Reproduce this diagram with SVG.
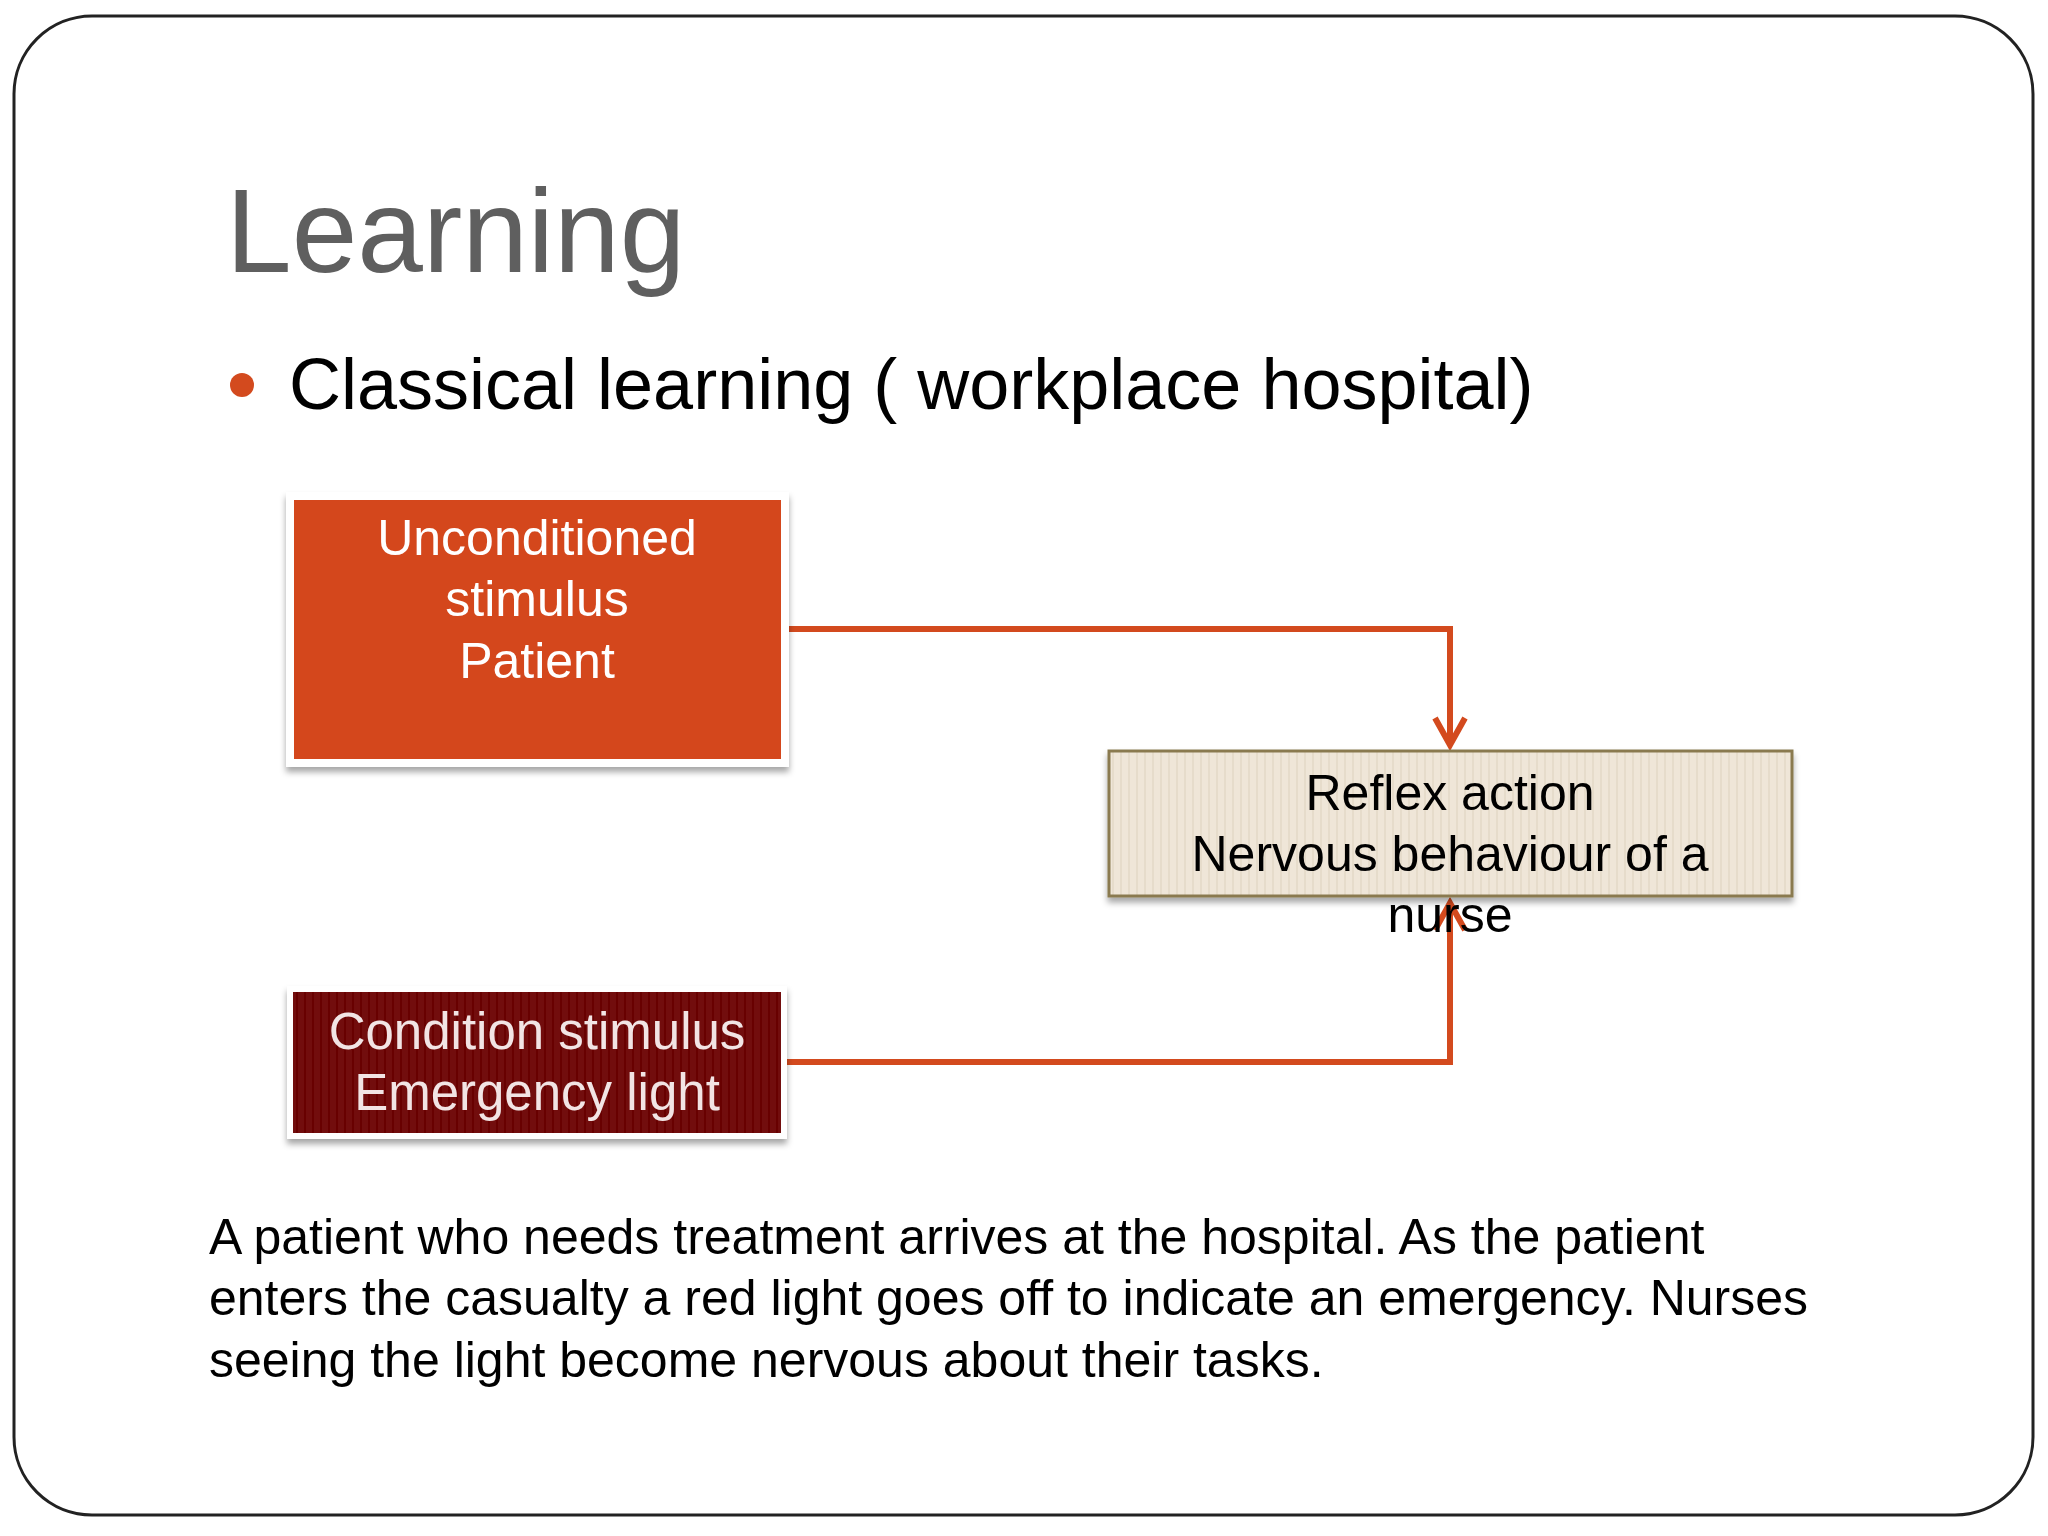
<svg xmlns="http://www.w3.org/2000/svg" width="2048" height="1536" viewBox="0 0 2048 1536">
<defs>
<style>
text{font-family:"Liberation Sans",Arial,sans-serif}
.c{text-anchor:middle}
.conn{fill:none;stroke:#d34a1e;stroke-width:6;stroke-linejoin:miter}
</style>
<marker id="ah" viewBox="0 0 12 12" refX="10" refY="6" markerWidth="6" markerHeight="6" orient="auto" markerUnits="strokeWidth">
<path d="M1,1 L10,6 L1,11" fill="none" stroke="#d34a1e" stroke-width="2"/>
</marker>
<pattern id="stripes" width="8" height="10" patternUnits="userSpaceOnUse">
<rect width="8" height="10" fill="#efe6d8"/><rect width="2" height="10" fill="#e6dccb"/>
</pattern>
<pattern id="stripes2" width="8" height="10" patternUnits="userSpaceOnUse">
<rect width="8" height="10" fill="#720a0a"/><rect width="2" height="10" fill="#680606"/>
</pattern>
<filter id="sh" x="-10%" y="-10%" width="120%" height="130%"><feDropShadow dx="0" dy="5" stdDeviation="3" flood-color="#000" flood-opacity="0.35"/></filter>
</defs>
<rect width="2048" height="1536" fill="#fff"/>
<rect x="14" y="16" width="2019" height="1499" rx="78" fill="#fff" stroke="#222" stroke-width="3"/>
<text x="226" y="272" font-size="118" fill="#5f5f5f">Learning</text>
<circle cx="242" cy="385" r="12" fill="#d34a1e"/>
<text x="289" y="409" font-size="72" fill="#000">Classical learning ( workplace hospital)</text>
<g id="conns">
<path class="conn" d="M785,629 H1450 V745" marker-end="url(#ah)"/>
<path class="conn" d="M785,1062 H1450 V903" marker-end="url(#ah)"/>
</g>
<g id="n1">
<rect x="290" y="496" width="495" height="267" fill="#d4471c" stroke="#fff" stroke-width="8" filter="url(#sh)"/>
<text class="c" x="537" y="555" font-size="50" fill="#fff">Unconditioned</text>
<text class="c" x="537" y="616" font-size="50" fill="#fff">stimulus</text>
<text class="c" x="537" y="678" font-size="50" fill="#fff">Patient</text>
</g>
<g id="n2">
<rect x="290" y="989" width="494" height="147" fill="url(#stripes2)" stroke="#fff" stroke-width="6" filter="url(#sh)"/>
<text class="c" x="537" y="1049" font-size="51" fill="#f2e4e4">Condition stimulus</text>
<text class="c" x="537" y="1110" font-size="51" fill="#f2e4e4">Emergency light</text>
</g>
<g id="n3">
<rect x="1109" y="751" width="683" height="145" fill="url(#stripes)" stroke="#8a7a50" stroke-width="3" filter="url(#sh)"/>
<text class="c" x="1450" y="810" font-size="50" fill="#000">Reflex action</text>
<text class="c" x="1450" y="871" font-size="50" fill="#000">Nervous behaviour of a</text>
<text class="c" x="1450" y="932" font-size="50" fill="#000">nurse</text>
</g>
<g font-size="50" fill="#000">
<text x="209" y="1254">A patient who needs treatment arrives at the hospital. As the patient</text>
<text x="209" y="1315">enters the casualty a red light goes off to indicate an emergency. Nurses</text>
<text x="209" y="1377">seeing the light become nervous about their tasks.</text>
</g>
</svg>
